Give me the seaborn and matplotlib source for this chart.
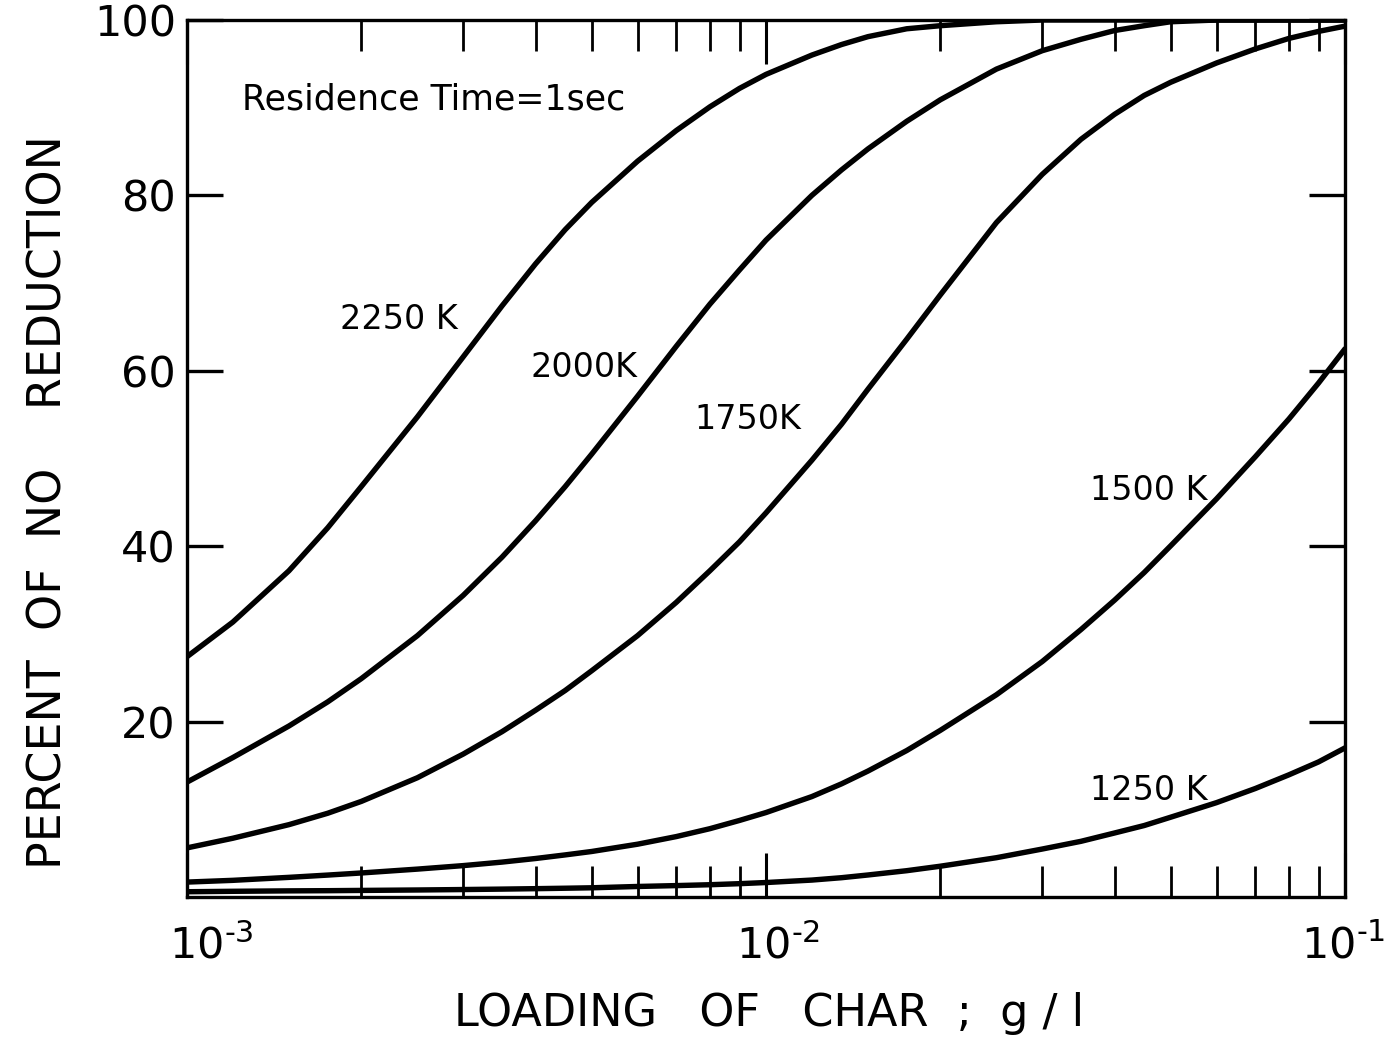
import matplotlib
matplotlib.use("Agg")
import matplotlib.pyplot as plt
import matplotlib.ticker as mticker
import matplotlib.transforms as mtransforms
import seaborn as sns
import pandas as pd

# ---- data ----
loading = [0.001, 0.0012, 0.0015, 0.00175, 0.002, 0.0025, 0.003, 0.0035, 0.004, 0.0045,
           0.005, 0.006, 0.007, 0.008, 0.009, 0.01, 0.012, 0.0135, 0.015, 0.0175,
           0.02, 0.025, 0.03, 0.035, 0.04, 0.045, 0.05, 0.06, 0.07, 0.08, 0.09, 0.1]

pct_2250 = [27.4, 31.35, 37.2, 42.1, 46.8, 54.75, 61.6, 67.4, 72.2, 76.1,
            79.2, 83.9, 87.4, 90.1, 92.2, 93.8, 96.0, 97.2, 98.1, 99.0,
            99.35, 99.8, 100, 100, 100, 100, 100, 100, 100, 100, 100, 100]
pct_2000 = [13.1, 15.9, 19.5, 22.25, 24.9, 29.8, 34.4, 38.75, 42.9, 46.8,
            50.5, 57.1, 62.8, 67.6, 71.5, 74.9, 80.0, 82.9, 85.3, 88.45,
            90.9, 94.4, 96.5, 97.8, 98.8, 99.35, 99.8, 100, 100, 100, 100, 100]
pct_1750 = [5.6, 6.7, 8.25, 9.55, 10.9, 13.6, 16.3, 18.85, 21.3, 23.55,
            25.8, 29.8, 33.6, 37.2, 40.5, 43.8, 49.8, 53.9, 57.9, 63.6,
            68.65, 76.9, 82.4, 86.4, 89.25, 91.4, 92.9, 95.1, 96.7, 97.9, 98.7, 99.3]
pct_1500 = [1.7, 1.9, 2.24, 2.5, 2.74, 3.18, 3.58, 3.98, 4.39, 4.8,
            5.19, 6.02, 6.89, 7.79, 8.73, 9.63, 11.45, 12.9, 14.36, 16.7,
            19.0, 23.06, 26.85, 30.5, 33.85, 37.0, 40.05, 45.4, 50.2, 54.5, 58.6, 62.5]
pct_1250 = [0.6, 0.65, 0.7, 0.72, 0.75, 0.8, 0.85, 0.9, 0.95, 1.0,
            1.05, 1.2, 1.3, 1.4, 1.52, 1.65, 1.93, 2.2, 2.51, 3.0,
            3.51, 4.48, 5.47, 6.35, 7.3, 8.15, 9.1, 10.76, 12.37, 13.93, 15.4, 17.0]

temps = ["2250 K", "2000K", "1750K", "1500 K", "1250 K"]
series = [pct_2250, pct_2000, pct_1750, pct_1500, pct_1250]

x_ticks = [1e-3, 1e-2, 1e-1]
x_ticklabels = ["$10^{\u20103}$", "$10^{\u20102}$", "$10^{\u20101}$"]
y_ticks = [20, 40, 60, 80, 100]

frames = []
for t, s in zip(temps, series):
    frames.append(pd.DataFrame({"loading": loading, "percent": s, "temp": t}))
df = pd.concat(frames, ignore_index=True)

# ---- style ----
sns.set_theme(style="ticks")
plt.rcParams["font.family"] = ["DejaVu Sans"]
plt.rcParams["mathtext.fontset"] = "dejavusans"
for k in ["text.color", "axes.labelcolor", "xtick.color", "ytick.color", "axes.edgecolor"]:
    plt.rcParams[k] = "black"

fig = plt.figure(figsize=(13.85, 10.43), dpi=100)
ax = fig.add_axes([187 / 1385, 146 / 1043, 1158 / 1385, 877 / 1043])

sns.lineplot(data=df, x="loading", y="percent", hue="temp",
             palette={t: "black" for t in temps}, linewidth=3.9,
             legend=False, estimator=None, ax=ax)
for ln in ax.get_lines():
    ln.set_solid_joinstyle("round")
    ln.set_solid_capstyle("round")

ax.set_xscale("log")
ax.set_xlim(1e-3, 1e-1)
ax.set_ylim(0, 100)

ax.xaxis.set_major_locator(mticker.FixedLocator(x_ticks))
ax.xaxis.set_major_formatter(mticker.FixedFormatter(x_ticklabels))
ax.xaxis.set_minor_locator(mticker.LogLocator(base=10, subs=range(2, 10)))
ax.xaxis.set_minor_formatter(mticker.NullFormatter())
ax.set_yticks(y_ticks)
ax.set_yticklabels([str(v) for v in y_ticks])

for sp in ax.spines.values():
    sp.set_linewidth(2.4)
    sp.set_color("black")

ax.tick_params(axis="x", which="both", direction="in", top=True, bottom=True,
               labelsize=31, pad=20)
ax.tick_params(axis="x", which="major", length=32, width=2.2)
ax.tick_params(axis="x", which="minor", length=22, width=2.0)
ax.tick_params(axis="y", which="major", direction="in", left=True, right=True,
               length=26, width=2.4, labelsize=31, pad=8)
ax.tick_params(axis="y", which="minor", left=False, right=False)

fig.canvas.draw()
shifts = [24, 12, -2]
for lab, dx in zip(ax.get_xticklabels(), shifts):
    lab.set_transform(lab.get_transform() +
                      mtransforms.ScaledTranslation(dx / 100, 0, fig.dpi_scale_trans))

ax.set_xlabel("LOADING   OF   CHAR  ;  g / l", fontsize=32)
ax.xaxis.set_label_coords(0.503, -0.108)
ax.set_ylabel("PERCENT  OF  NO    REDUCTION", fontsize=33)
ax.yaxis.set_label_coords(-0.100, 0.450)

ax.text(0.001245, 90.9, "Residence Time=1sec", fontsize=25, va="center", ha="left")
lab_kw = dict(fontsize=24, va="center", ha="left")
ax.text(0.001841, 65.8, "2250 K", **lab_kw)
ax.text(0.003926, 60.4, "2000K", **lab_kw)
ax.text(0.007534, 54.4, "1750K", **lab_kw)
ax.text(0.03631, 46.4, "1500 K", **lab_kw)
ax.text(0.03631, 12.2, "1250 K", **lab_kw)

fig.savefig("out.png", dpi=100, facecolor="white")
